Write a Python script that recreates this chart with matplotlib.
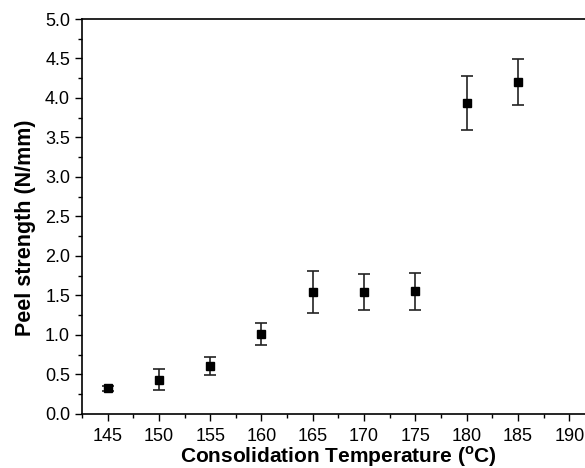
import numpy as np
import matplotlib.pyplot as plt
from matplotlib.ticker import MultipleLocator

plt.rcParams['font.family'] = ['Liberation Sans', 'DejaVu Sans']

# --- data ---
temperature = [145, 150, 155, 160, 165, 170, 175, 180, 185]
peel = [0.32, 0.43, 0.60, 1.01, 1.54, 1.54, 1.55, 3.94, 4.20]
peel_err = [0.03, 0.135, 0.115, 0.135, 0.265, 0.23, 0.23, 0.34, 0.295]

fig = plt.figure(figsize=(5.85, 4.68), dpi=100)
ax = fig.add_axes([0.140, 0.116, 0.877, 0.8434])

ax.errorbar(temperature, peel, yerr=peel_err, fmt='s', color='black',
            ecolor='#222222', markersize=6.2, elinewidth=1.2,
            capsize=4.3, capthick=1.2)

ax.set_xlim(142.5, 192.5)
ax.set_ylim(0, 5.0)
ax.set_xticks(np.arange(145, 191, 5))
ax.set_yticks(np.arange(0, 5.01, 0.5))
ax.xaxis.set_minor_locator(MultipleLocator(2.5))
ax.yaxis.set_minor_locator(MultipleLocator(0.25))
ax.set_yticklabels(['%.1f' % v for v in np.arange(0, 5.01, 0.5)])

ax.tick_params(which='major', direction='out', length=5, width=1, labelsize=13)
ax.tick_params(axis='x', which='major', pad=5)
ax.tick_params(which='minor', direction='out', length=3, width=1)
ax.tick_params(top=False, right=False)
for s in ax.spines.values():
    s.set_linewidth(1.2)

ax.set_xlabel(r'Consolidation Temperature ($^\mathregular{o}$C)',
              fontsize=15, fontweight='bold', labelpad=0)
ax.set_ylabel('Peel strength (N/mm)', fontsize=15.5, fontweight='bold')
# label sits a little below the axis middle in the reference
ax.yaxis.set_label_coords(-0.089, 0.47)

fig.savefig('out.png', dpi=100)
